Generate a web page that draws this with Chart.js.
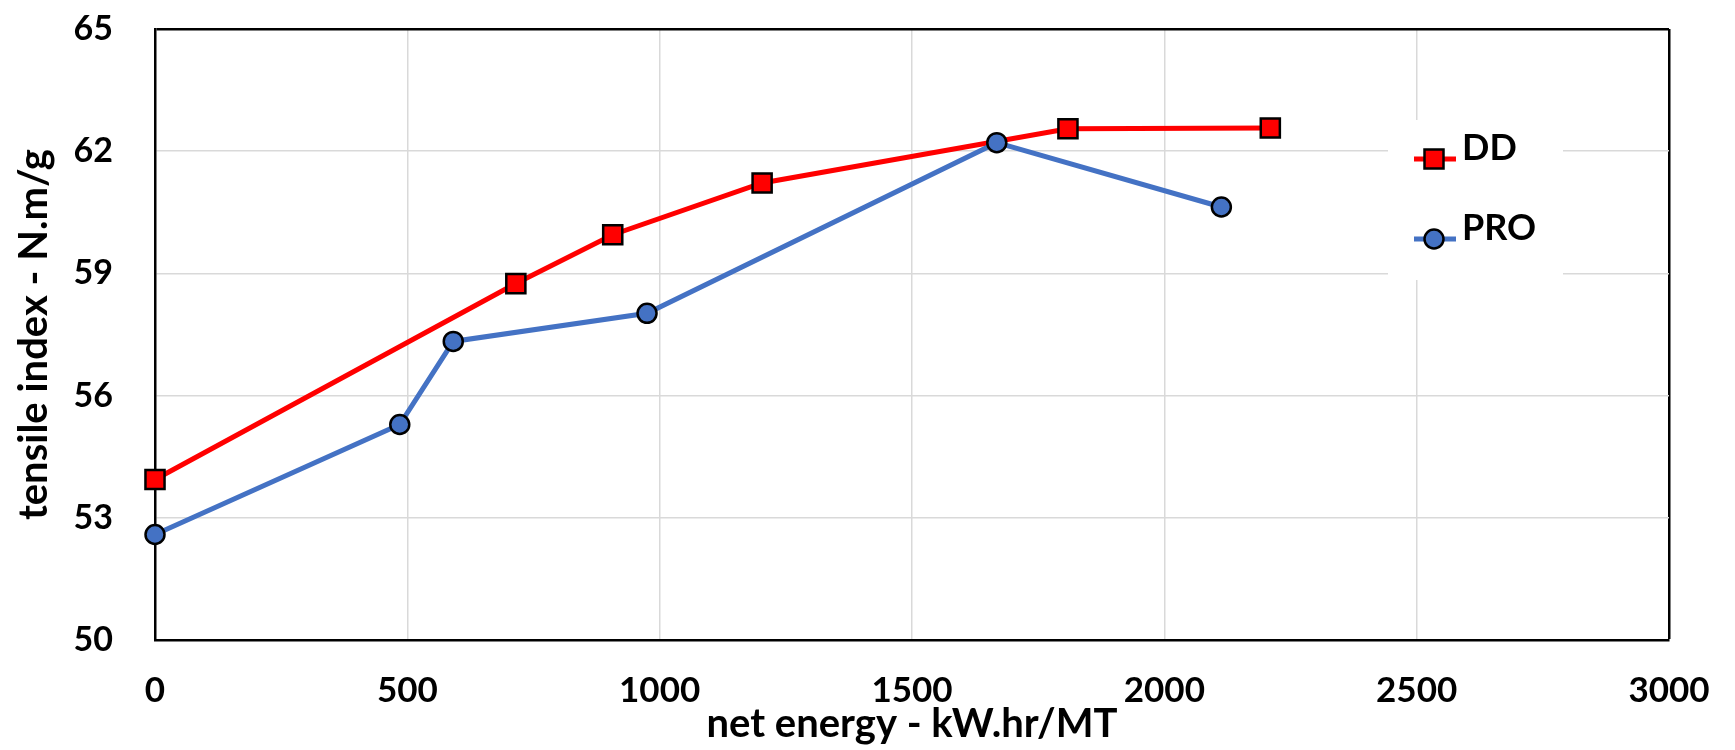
<!DOCTYPE html>
<html>
<head>
<meta charset="utf-8">
<script src="https://cdn.jsdelivr.net/npm/chart.js@4.4.1/dist/chart.umd.min.js"></script>
<style>
  html, body { margin: 0; padding: 0; background: #fff; }
  #wrap { width: 1735px; height: 750px; }
</style>
</head>
<body>
<div id="wrap"><canvas id="myChart" width="1735" height="750"></canvas></div>
<script>
// values
const ddEnergy = [0, 715, 907, 1203, 1809, 2210];
const ddTensile = [53.94, 58.75, 59.95, 61.22, 62.55, 62.57];
const proEnergy = [0, 485, 591, 975, 1668, 2113];
const proTensile = [52.59, 55.29, 57.33, 58.02, 62.21, 60.63];

const xTicks = [0, 500, 1000, 1500, 2000, 2500, 3000];
const yTicks = [50, 53, 56, 59, 62, 65];

const seriesNames = ['DD', 'PRO'];
const seriesColors = ['#ff0000', '#4472c4'];
const seriesShapes = ['rect', 'circle'];

const fontFamily = 'Lato, "Open Sans", sans-serif';

function toPoints(xs, ys) {
  return xs.map((x, i) => ({ x: x, y: ys[i] }));
}

// legend drawn inside the plot, on a white box
const insideLegend = {
  id: 'insideLegend',
  afterDatasetsDraw(chart) {
    const c = chart.ctx;
    const area = chart.chartArea;
    const bx = area.right - 281;
    const by = area.top + 91;
    c.save();
    c.fillStyle = '#fff';
    c.fillRect(bx, by, 175, 160);
    seriesNames.forEach((name, i) => {
      const y = by + 39 + i * 80;
      c.strokeStyle = seriesColors[i];
      c.lineWidth = 5;
      c.beginPath();
      c.moveTo(bx + 26, y);
      c.lineTo(bx + 68, y);
      c.stroke();
      c.fillStyle = seriesColors[i];
      c.strokeStyle = '#000';
      c.lineWidth = 2.5;
      c.beginPath();
      if (seriesShapes[i] === 'rect') {
        c.rect(bx + 46 - 9.5, y - 9.5, 19, 19);
      } else {
        c.arc(bx + 46, y, 9.5, 0, Math.PI * 2);
      }
      c.fill();
      c.stroke();
      c.fillStyle = '#000';
      c.font = 'bold 36px ' + fontFamily;
      c.textAlign = 'left';
      c.textBaseline = 'middle';
      c.fillText(name, bx + 74, y - 11);
    });
    c.restore();
  }
};

function edgeColor(edge) {
  return ctx => (ctx.tick && ctx.tick.value === edge) ? '#000' : '#d9d9d9';
}
function edgeWidth(edge) {
  return ctx => (ctx.tick && ctx.tick.value === edge) ? 2.5 : 1.5;
}

function draw() {
  const ctx = document.getElementById('myChart');
  new Chart(ctx, {
    type: 'line',
    data: {
      datasets: [
        {
          label: seriesNames[0],
          data: toPoints(ddEnergy, ddTensile),
          borderColor: seriesColors[0],
          backgroundColor: seriesColors[0],
          borderWidth: 5,
          pointStyle: 'rect',
          pointRadius: 13.5,
          pointHoverRadius: 13.5,
          pointBorderColor: '#000',
          pointBorderWidth: 2.5,
          order: 1,
          clip: false
        },
        {
          label: seriesNames[1],
          data: toPoints(proEnergy, proTensile),
          borderColor: seriesColors[1],
          backgroundColor: seriesColors[1],
          borderWidth: 5,
          pointStyle: 'circle',
          pointRadius: 9.5,
          pointHoverRadius: 9.5,
          pointBorderColor: '#000',
          pointBorderWidth: 2.5,
          order: 0,
          clip: false
        }
      ]
    },
    options: {
      responsive: false,
      devicePixelRatio: 1,
      animation: false,
      events: [],
      layout: { padding: { left: 0, top: 29, right: 66, bottom: 0 } },
      plugins: {
        legend: { display: false },
        tooltip: { enabled: false }
      },
      scales: {
        x: {
          type: 'linear',
          min: 0,
          max: 3000,
          afterBuildTicks: s => { s.ticks = xTicks.map(v => ({ value: v })); },
          afterFit: s => {
            s.height = 110;
            s.paddingLeft = 0;
            s.paddingRight = 0;
          },
          grid: { color: edgeColor(3000), lineWidth: edgeWidth(3000), drawTicks: false },
          border: { color: '#000', width: 2.5 },
          ticks: {
            padding: 30,
            color: '#000',
            maxRotation: 0,
            callback: v => String(v),
            font: { family: fontFamily, size: 35, weight: 'bold' }
          },
          title: {
            display: true,
            text: 'net energy - kW.hr/MT',
            color: '#000',
            padding: { top: 0, bottom: 1.5 },
            font: { family: fontFamily, size: 40, weight: 'bold' }
          }
        },
        y: {
          min: 50,
          max: 65,
          afterBuildTicks: s => { s.ticks = yTicks.map(v => ({ value: v })); },
          afterFit: s => {
            s.width = 155;
            s.paddingTop = 0;
            s.paddingBottom = 0;
          },
          grid: { color: edgeColor(65), lineWidth: edgeWidth(65), drawTicks: false },
          border: { color: '#000', width: 2.5 },
          ticks: {
            padding: 42,
            color: '#000',
            callback: v => String(v),
            font: { family: fontFamily, size: 34, weight: 'bold' }
          },
          title: {
            display: true,
            text: 'tensile index - N.m/g',
            color: '#000',
            padding: { top: 10, bottom: 0 },
            font: { family: fontFamily, size: 40, weight: 'bold' }
          }
        }
      }
    },
    plugins: [insideLegend]
  });
}

document.fonts.load('bold 35px Lato').then(draw, draw);
</script>
</body>
</html>
